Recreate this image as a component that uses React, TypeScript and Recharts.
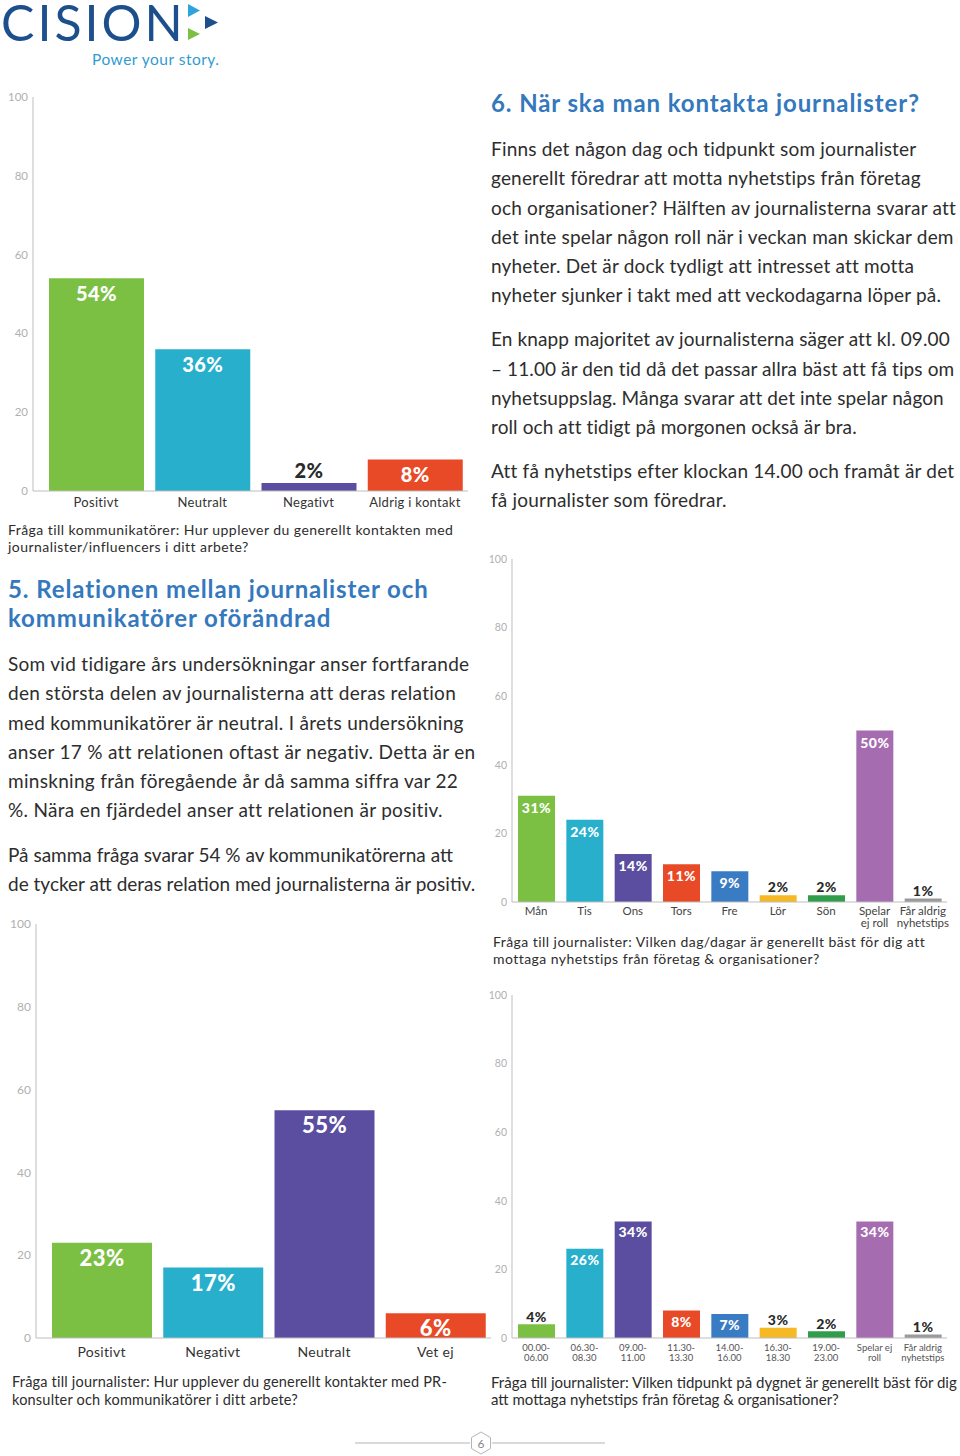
import React from 'react';
import { BarChart, Bar, XAxis, YAxis, LabelList, Cell } from 'recharts';

// Palette used by the report
const GREEN = '#7cc043';
const TEAL = '#27afcc';
const INDIGO = '#5b4d9f';
const RED = '#e84a27';
const BLUE = '#3a7cc3';
const YELLOW = '#f7b923';
const DARKGREEN = '#2f9d4b';
const LILAC = '#a66cb0';
const GREY = '#9a9a9a';

const FONT = 'Lato, "Open Sans", sans-serif';

// Chart: kommunikatörer om kontakten med journalister
const contactCategories = ['Positivt', 'Neutralt', 'Negativt', 'Aldrig i kontakt'];
const contactValues = [54, 36, 2, 8];

// Chart: journalister om kontakter med PR-konsulter
const prCategories = ['Positivt', 'Negativt', 'Neutralt', 'Vet ej'];
const prValues = [23, 17, 55, 6];

// Chart: bästa dag
const dayCategories = ['Mån', 'Tis', 'Ons', 'Tors', 'Fre', 'Lör', 'Sön', 'Spelar\nej roll', 'Får aldrig\nnyhetstips'];
const dayValues = [31, 24, 14, 11, 9, 2, 2, 50, 1];

// Chart: bästa tidpunkt
const timeCategories = [
  '00.00-\n06.00', '06.30-\n08.30', '09.00-\n11.00', '11.30-\n13.30', '14.00-\n16.00',
  '16.30-\n18.30', '19.00-\n23.00', 'Spelar ej\nroll', 'Får aldrig\nnyhetstips',
];
const timeValues = [4, 26, 34, 8, 7, 3, 2, 34, 1];

const yTicks = [0, 20, 40, 60, 80, 100];

const fourColors = [GREEN, TEAL, INDIGO, RED];
const nineColors = [GREEN, TEAL, INDIGO, RED, BLUE, YELLOW, DARKGREEN, LILAC, GREY];

interface PanelProps {
  categories: string[];
  values: number[];
  colors: string[];
  left: number;
  top: number;
  width: number;
  height: number;
  marginTop: number;
  yWidth: number;
  xHeight: number;
  padLeft: number;
  barSize: number;
  yFont: number;
  catFont: number;
  catDy: number;
  catLine: number;
  catColor: string;
  catSpacing?: number;
  valFont: number;
  valInside: number;
  valOutside: number;
}

const BarPanel: React.FC<PanelProps> = (p) => {
  const data = p.categories.map((c, i) => ({ name: c, value: p.values[i] }));

  const renderTick = (t: any) => {
    const lines = String(t.payload.value).split('\n');
    return (
      <text
        x={t.x}
        y={t.y}
        textAnchor="middle"
        fill={p.catColor}
        fontSize={p.catFont}
        fontFamily={FONT}
        letterSpacing={p.catSpacing || 0}
      >
        {lines.map((l, i) => (
          <tspan key={i} x={t.x} dy={i === 0 ? p.catDy : p.catLine}>{l}</tspan>
        ))}
      </text>
    );
  };

  const renderValue = (l: any) => {
    const v = Number(l.value);
    const cx = Number(l.x) + Number(l.width) / 2;
    const inside = v >= 5;
    return (
      <text
        x={cx}
        y={inside ? Number(l.y) + p.valInside : Number(l.y) - p.valOutside}
        textAnchor="middle"
        fill={inside ? '#ffffff' : '#2b2b2b'}
        fontSize={p.valFont}
        fontWeight={900}
        fontFamily={FONT}
        letterSpacing={0.5}
      >
        {v}%
      </text>
    );
  };

  return (
    <div style={{ position: 'absolute', left: p.left, top: p.top }}>
      <BarChart
        width={p.width}
        height={p.height}
        data={data}
        margin={{ top: p.marginTop, right: 2, left: 0, bottom: 0 }}
        barCategoryGap={0}
      >
        <XAxis
          dataKey="name"
          height={p.xHeight}
          axisLine={{ stroke: '#bdbdbd' }}
          tickLine={false}
          tickSize={0}
          tickMargin={0}
          interval={0}
          padding={{ left: p.padLeft, right: 0 }}
          tick={renderTick}
        />
        <YAxis
          width={p.yWidth}
          domain={[0, 100]}
          ticks={yTicks}
          axisLine={{ stroke: '#bdbdbd' }}
          tickLine={false}
          tickSize={0}
          tickMargin={5}
          tick={{ fill: '#b0b0b0', fontSize: p.yFont, fontFamily: FONT }}
        />
        <Bar dataKey="value" barSize={p.barSize} isAnimationActive={false}>
          {data.map((_, i) => (
            <Cell key={`c-${i}`} fill={p.colors[i % p.colors.length]} />
          ))}
          <LabelList dataKey="value" content={renderValue} />
        </Bar>
      </BarChart>
    </div>
  );
};

interface LinesProps {
  x: number;
  y: number;
  step: number;
  lines: string[];
  size: number;
  color?: string;
  weight?: number;
  spacing?: number;
}

// text block, one div per printed line (y = centre of first line)
const Lines: React.FC<LinesProps> = ({ x, y, step, lines, size, color = '#2d2d2d', weight = 400, spacing = 0 }) => (
  <>
    {lines.map((l, i) => (
      <div
        key={i}
        style={{
          position: 'absolute',
          left: x,
          top: y + i * step - size * 0.62,
          fontSize: size,
          lineHeight: `${size * 1.2}px`,
          fontWeight: weight,
          letterSpacing: spacing,
          color,
          whiteSpace: 'nowrap',
          fontFamily: FONT,
        }}
      >
        {l}
      </div>
    ))}
  </>
);

export default function App() {
  return (
    <div style={{ position: 'absolute', left: 0, top: 0, width: 960, height: 1456, background: '#fff', fontFamily: FONT, overflow: 'hidden' }}>
      {/* logo */}
      <svg style={{ position: 'absolute', left: 0, top: 0 }} width={224} height={72}>
        <text x={1} y={41} fontSize={50} letterSpacing={3} fill="#1d4f8c" fontFamily={FONT}>CISION</text>
        <polygon points="188,4 200,10.5 188,17" fill="#2fa4dc" />
        <polygon points="205,16 218,22.5 205,29" fill="#1d4f8c" />
        <polygon points="188,28 200,34 188,40" fill="#7cc043" />
        <text x={92} y={65} fontSize={15.5} letterSpacing={0.5} fill="#2f9bd0" fontFamily={FONT}>Power your story.</text>
      </svg>

      {/* chart 1 */}
      <BarPanel
        categories={contactCategories}
        values={contactValues}
        colors={fourColors}
        left={0}
        top={80}
        width={470}
        height={441}
        marginTop={17}
        yWidth={33}
        xHeight={30}
        padLeft={10}
        barSize={95}
        yFont={11.5}
        catFont={13}
        catDy={16}
        catLine={14}
        catColor="#333"
        catSpacing={0.3}
        valFont={20}
        valInside={23}
        valOutside={5}
      />
      <Lines
        x={8}
        y={531}
        step={17}
        size={14}
        spacing={0.45}
        lines={[
          'Fråga till kommunikatörer: Hur upplever du generellt kontakten med',
          'journalister/influencers i ditt arbete?',
        ]}
      />

      {/* section 5 */}
      <Lines
        x={8}
        y={590}
        step={29}
        size={24}
        weight={700}
        spacing={0.9}
        color="#3478bd"
        lines={['5. Relationen mellan journalister och', 'kommunikatörer oförändrad']}
      />
      <Lines
        x={8}
        y={665}
        step={29.2}
        size={19}
        spacing={0.3}
        lines={[
          'Som vid tidigare års undersökningar anser fortfarande',
          'den största delen av journalisterna att deras relation',
          'med kommunikatörer är neutral. I årets undersökning',
          'anser 17 % att relationen oftast är negativ. Detta är en',
          'minskning från föregående år då samma siffra var 22',
          '%. Nära en fjärdedel anser att relationen är positiv.',
        ]}
      />
      <Lines
        x={8}
        y={856}
        step={29}
        size={19}
        lines={[
          'På samma fråga svarar 54 % av kommunikatörerna att',
          'de tycker att deras relation med journalisterna är positiv.',
        ]}
      />

      {/* chart 2 */}
      <BarPanel
        categories={prCategories}
        values={prValues}
        colors={fourColors}
        left={0}
        top={900}
        width={493}
        height={468}
        marginTop={24}
        yWidth={36}
        xHeight={30}
        padLeft={10}
        barSize={100}
        yFont={12}
        catFont={14}
        catDy={19}
        catLine={15}
        catColor="#333"
        catSpacing={0.3}
        valFont={22}
        valInside={23}
        valOutside={5}
      />
      <Lines
        x={12}
        y={1382}
        step={17.5}
        size={14.5}
        spacing={0.2}
        lines={[
          'Fråga till journalister: Hur upplever du generellt kontakter med PR-',
          'konsulter och kommunikatörer i ditt arbete?',
        ]}
      />

      {/* section 6 */}
      <Lines
        x={491}
        y={104}
        step={29}
        size={24}
        weight={700}
        spacing={0.9}
        color="#3478bd"
        lines={['6. När ska man kontakta journalister?']}
      />
      <Lines
        x={491}
        y={150}
        step={29.2}
        size={19}
        spacing={0.18}
        lines={[
          'Finns det någon dag och tidpunkt som journalister',
          'generellt föredrar att motta nyhetstips från företag',
          'och organisationer? Hälften av journalisterna svarar att',
          'det inte spelar någon roll när i veckan man skickar dem',
          'nyheter. Det är dock tydligt att intresset att motta',
          'nyheter sjunker i takt med att veckodagarna löper på.',
        ]}
      />
      <Lines
        x={491}
        y={340}
        step={29.3}
        size={19}
        spacing={0.1}
        lines={[
          'En knapp majoritet av journalisterna säger att kl. 09.00',
          '– 11.00 är den tid då det passar allra bäst att få tips om',
          'nyhetsuppslag. Många svarar att det inte spelar någon',
          'roll och att tidigt på morgonen också är bra.',
        ]}
      />
      <Lines
        x={491}
        y={472}
        step={29}
        size={19}
        spacing={0.2}
        lines={['Att få nyhetstips efter klockan 14.00 och framåt är det', 'få journalister som föredrar.']}
      />

      {/* chart 3 */}
      <BarPanel
        categories={dayCategories}
        values={dayValues}
        colors={nineColors}
        left={480}
        top={540}
        width={469}
        height={402}
        marginTop={19}
        yWidth={32}
        xHeight={40}
        padLeft={0}
        barSize={37}
        yFont={10.5}
        catFont={11.5}
        catDy={13}
        catLine={11.5}
        catColor="#444"
        valFont={14}
        valInside={17}
        valOutside={3}
      />
      <Lines
        x={493}
        y={943}
        step={17}
        size={14}
        spacing={0.45}
        lines={[
          'Fråga till journalister: Vilken dag/dagar är generellt bäst för dig att',
          'mottaga nyhetstips från företag & organisationer?',
        ]}
      />

      {/* chart 4 */}
      <BarPanel
        categories={timeCategories}
        values={timeValues}
        colors={nineColors}
        left={480}
        top={975}
        width={469}
        height={399}
        marginTop={20}
        yWidth={32}
        xHeight={36}
        padLeft={0}
        barSize={37}
        yFont={10.5}
        catFont={9.5}
        catDy={12.5}
        catLine={10.5}
        catColor="#555"
        valFont={14}
        valInside={16}
        valOutside={2.5}
      />
      <Lines
        x={491}
        y={1382}
        step={17.5}
        size={15}
        lines={[
          'Fråga till journalister: Vilken tidpunkt på dygnet är generellt bäst för dig',
          'att mottaga nyhetstips från företag & organisationer?',
        ]}
      />

      {/* page number */}
      <svg style={{ position: 'absolute', left: 350, top: 1428 }} width={260} height={28}>
        <line x1={5} y1={15} x2={120} y2={15} stroke="#b5b5b5" strokeWidth={1} />
        <line x1={142} y1={15} x2={255} y2={15} stroke="#b5b5b5" strokeWidth={1} />
        <polygon points="131,4 140.5,9.5 140.5,20.5 131,26 121.5,20.5 121.5,9.5" fill="none" stroke="#b5b5b5" strokeWidth={1} />
        <text x={131} y={19.5} textAnchor="middle" fontSize={12} fill="#888" fontFamily={FONT}>6</text>
      </svg>
    </div>
  );
}
